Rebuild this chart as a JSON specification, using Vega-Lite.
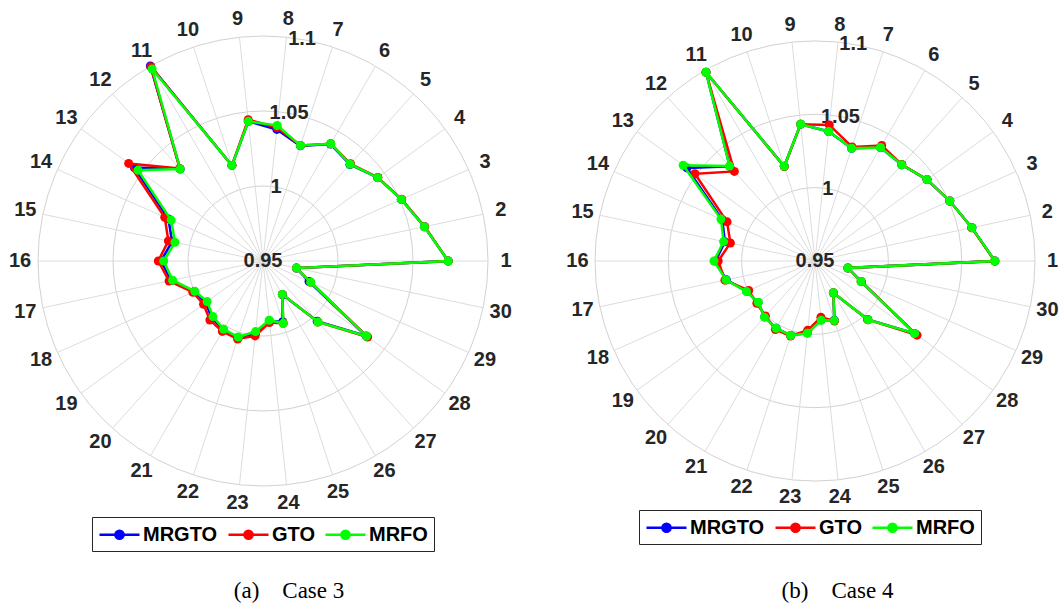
{
  "$schema": "https://vega.github.io/schema/vega-lite/v6.json",
  "background": "white",
  "padding": 0,
  "spacing": 26,
  "bounds": "flush",
  "config": {
    "view": {"stroke": null},
    "font": "Liberation Sans",
    "text": {"font": "Liberation Sans"}
  },
  "datasets": {
    "case3": [
      {"bus": 1, "MRGTO": 1.0735, "GTO": 1.0735, "MRFO": 1.0735},
      {"bus": 2, "MRGTO": 1.0600, "GTO": 1.0602, "MRFO": 1.0600},
      {"bus": 3, "MRGTO": 1.0509, "GTO": 1.0512, "MRFO": 1.0509},
      {"bus": 4, "MRGTO": 1.0445, "GTO": 1.0447, "MRFO": 1.0445},
      {"bus": 5, "MRGTO": 1.0366, "GTO": 1.0372, "MRFO": 1.0368},
      {"bus": 6, "MRGTO": 1.0400, "GTO": 1.0403, "MRFO": 1.0403},
      {"bus": 7, "MRGTO": 1.0307, "GTO": 1.0310, "MRFO": 1.0309},
      {"bus": 8, "MRGTO": 1.0382, "GTO": 1.0395, "MRFO": 1.0408},
      {"bus": 9, "MRGTO": 1.0436, "GTO": 1.0447, "MRFO": 1.0436},
      {"bus": 10, "MRGTO": 1.0170, "GTO": 1.0170, "MRFO": 1.0170},
      {"bus": 11, "MRGTO": 1.1002, "GTO": 1.0995, "MRFO": 1.0978},
      {"bus": 12, "MRGTO": 1.0325, "GTO": 1.0330, "MRFO": 1.0325},
      {"bus": 13, "MRGTO": 1.0560, "GTO": 1.0607, "MRFO": 1.0530},
      {"bus": 14, "MRGTO": 1.0190, "GTO": 1.0217, "MRFO": 1.0170},
      {"bus": 15, "MRGTO": 1.0120, "GTO": 1.0145, "MRFO": 1.0100},
      {"bus": 16, "MRGTO": 1.0180, "GTO": 1.0198, "MRFO": 1.0162},
      {"bus": 17, "MRGTO": 1.0125, "GTO": 1.0140, "MRFO": 1.0116},
      {"bus": 18, "MRGTO": 1.0003, "GTO": 1.0012, "MRFO": 0.9997},
      {"bus": 19, "MRGTO": 0.9972, "GTO": 0.9990, "MRFO": 0.9960},
      {"bus": 20, "MRGTO": 1.0010, "GTO": 1.0029, "MRFO": 0.9999},
      {"bus": 21, "MRGTO": 1.0030, "GTO": 1.0042, "MRFO": 1.0025},
      {"bus": 22, "MRGTO": 1.0038, "GTO": 1.0047, "MRFO": 1.0033},
      {"bus": 23, "MRGTO": 0.9985, "GTO": 1.0002, "MRFO": 0.9973},
      {"bus": 24, "MRGTO": 0.9902, "GTO": 0.9913, "MRFO": 0.9897},
      {"bus": 25, "MRGTO": 0.9925, "GTO": 0.9937, "MRFO": 0.9937},
      {"bus": 26, "MRGTO": 0.9760, "GTO": 0.9757, "MRFO": 0.9757},
      {"bus": 27, "MRGTO": 1.0040, "GTO": 1.0047, "MRFO": 1.0047},
      {"bus": 28, "MRGTO": 1.0350, "GTO": 1.0362, "MRFO": 1.0353},
      {"bus": 29, "MRGTO": 0.9836, "GTO": 0.9848, "MRFO": 0.9848},
      {"bus": 30, "MRGTO": 0.9728, "GTO": 0.9728, "MRFO": 0.9728}
    ],
    "case4": [
      {"bus": 1, "MRGTO": 1.0727, "GTO": 1.0725, "MRFO": 1.0727},
      {"bus": 2, "MRGTO": 1.0594, "GTO": 1.0592, "MRFO": 1.0594},
      {"bus": 3, "MRGTO": 1.0506, "GTO": 1.0506, "MRFO": 1.0506},
      {"bus": 4, "MRGTO": 1.0444, "GTO": 1.0444, "MRFO": 1.0444},
      {"bus": 5, "MRGTO": 1.0383, "GTO": 1.0385, "MRFO": 1.0383},
      {"bus": 6, "MRGTO": 1.0394, "GTO": 1.0410, "MRFO": 1.0394},
      {"bus": 7, "MRGTO": 1.0308, "GTO": 1.0318, "MRFO": 1.0308},
      {"bus": 8, "MRGTO": 1.0388, "GTO": 1.0433, "MRFO": 1.0388},
      {"bus": 9, "MRGTO": 1.0438, "GTO": 1.0438, "MRFO": 1.0438},
      {"bus": 10, "MRGTO": 1.0179, "GTO": 1.0177, "MRFO": 1.0179},
      {"bus": 11, "MRGTO": 1.0986, "GTO": 1.0986, "MRFO": 1.0986},
      {"bus": 12, "MRGTO": 1.0368, "GTO": 1.0322, "MRFO": 1.0371},
      {"bus": 13, "MRGTO": 1.0580, "GTO": 1.0512, "MRFO": 1.0611},
      {"bus": 14, "MRGTO": 1.0192, "GTO": 1.0156, "MRFO": 1.0202},
      {"bus": 15, "MRGTO": 1.0128, "GTO": 1.0090, "MRFO": 1.0137},
      {"bus": 16, "MRGTO": 1.0178, "GTO": 1.0160, "MRFO": 1.0189},
      {"bus": 17, "MRGTO": 1.0118, "GTO": 1.0128, "MRFO": 1.0120},
      {"bus": 18, "MRGTO": 1.0008, "GTO": 0.9995, "MRFO": 1.0012},
      {"bus": 19, "MRGTO": 0.9980, "GTO": 0.9990, "MRFO": 0.9978},
      {"bus": 20, "MRGTO": 1.0012, "GTO": 1.0005, "MRFO": 1.0015},
      {"bus": 21, "MRGTO": 1.0030, "GTO": 1.0040, "MRFO": 1.0030},
      {"bus": 22, "MRGTO": 1.0034, "GTO": 1.0038, "MRFO": 1.0034},
      {"bus": 23, "MRGTO": 0.9992, "GTO": 0.9975, "MRFO": 0.9995},
      {"bus": 24, "MRGTO": 0.9904, "GTO": 0.9885, "MRFO": 0.9906},
      {"bus": 25, "MRGTO": 0.9925, "GTO": 0.9930, "MRFO": 0.9927},
      {"bus": 26, "MRGTO": 0.9752, "GTO": 0.9750, "MRFO": 0.9750},
      {"bus": 27, "MRGTO": 1.0036, "GTO": 1.0039, "MRFO": 1.0039},
      {"bus": 28, "MRGTO": 1.0340, "GTO": 1.0360, "MRFO": 1.0340},
      {"bus": 29, "MRGTO": 0.9846, "GTO": 0.9844, "MRFO": 0.9844},
      {"bus": 30, "MRGTO": 0.9729, "GTO": 0.9729, "MRFO": 0.9729}
    ],
    "spokes": [
      {"bus": 1}, {"bus": 2}, {"bus": 3}, {"bus": 4}, {"bus": 5}, {"bus": 6},
      {"bus": 7}, {"bus": 8}, {"bus": 9}, {"bus": 10}, {"bus": 11}, {"bus": 12},
      {"bus": 13}, {"bus": 14}, {"bus": 15}, {"bus": 16}, {"bus": 17}, {"bus": 18},
      {"bus": 19}, {"bus": 20}, {"bus": 21}, {"bus": 22}, {"bus": 23}, {"bus": 24},
      {"bus": 25}, {"bus": 26}, {"bus": 27}, {"bus": 28}, {"bus": 29}, {"bus": 30}
    ],
    "rings": [
      {"ring": 0.95, "label": "0.95"},
      {"ring": 1.0, "label": "1"},
      {"ring": 1.05, "label": "1.05"},
      {"ring": 1.1, "label": "1.1"}
    ],
    "cap3": [{"cap": "(a)\u00a0\u00a0\u00a0\u00a0Case 3"}],
    "cap4": [{"cap": "(b)\u00a0\u00a0\u00a0\u00a0Case 4"}]
  },
  "resolve": {
    "scale": {"x": "independent", "y": "independent", "color": "independent", "size": "independent"},
    "legend": {"color": "independent", "size": "independent"}
  },
  "hconcat": [
    {
      "width": 526,
      "height": 603,
      "layer": [
        {
          "data": {"name": "rings"},
          "transform": [{"calculate": "(datum.ring - 0.95) / 0.15", "as": "u"}],
          "mark": {"type": "point", "shape": "circle", "filled": false, "color": "#d2d2d2", "strokeWidth": 1, "opacity": 1},
          "encoding": {
            "x": {"datum": 0, "type": "quantitative", "scale": {"domain": [-1.16889, 1.16889], "nice": false, "zero": false}, "axis": null},
            "y": {"datum": 0, "type": "quantitative", "scale": {"domain": [-1.52, 1.16], "nice": false, "zero": false}, "axis": null},
            "size": {"field": "u", "type": "quantitative", "scale": {"type": "pow", "exponent": 2, "domain": [0, 1], "range": [0, 202500], "nice": false}, "legend": null}
          }
        },
        {
          "data": {"name": "spokes"},
          "transform": [
            {"calculate": "cos((datum.bus - 1) * PI / 15)", "as": "sx"},
            {"calculate": "sin((datum.bus - 1) * PI / 15)", "as": "sy"}
          ],
          "mark": {"type": "rule", "color": "#dcdcdc", "strokeWidth": 1},
          "encoding": {
            "x": {"field": "sx", "type": "quantitative"},
            "y": {"field": "sy", "type": "quantitative"},
            "x2": {"datum": 0},
            "y2": {"datum": 0}
          }
        },
        {
          "data": {"name": "spokes"},
          "transform": [
            {"calculate": "1.08 * cos((datum.bus - 1) * PI / 15)", "as": "lx"},
            {"calculate": "1.08 * sin((datum.bus - 1) * PI / 15)", "as": "ly"}
          ],
          "mark": {"type": "text", "fontSize": 20, "fontWeight": "bold", "color": "#262626", "align": "center", "baseline": "middle"},
          "encoding": {
            "x": {"field": "lx", "type": "quantitative"},
            "y": {"field": "ly", "type": "quantitative"},
            "text": {"field": "bus", "type": "nominal"}
          }
        },
        {
          "data": {"name": "rings"},
          "transform": [
            {"calculate": "(datum.ring - 0.95) / 0.15", "as": "u"},
            {"calculate": "datum.u * cos(80 * PI / 180)", "as": "tx"},
            {"calculate": "datum.u * sin(80 * PI / 180)", "as": "ty"}
          ],
          "mark": {"type": "text", "fontSize": 20, "fontWeight": "bold", "color": "#262626", "align": "center", "baseline": "middle"},
          "encoding": {
            "x": {"field": "tx", "type": "quantitative"},
            "y": {"field": "ty", "type": "quantitative"},
            "text": {"field": "label", "type": "nominal"}
          }
        },
        {
          "data": {"name": "case3"},
          "transform": [
            {"fold": ["MRGTO", "GTO", "MRFO"], "as": ["series", "v"]},
            {"filter": "datum.series === 'MRGTO'"},
            {"calculate": "(datum.v - 0.95) / 0.15", "as": "u"},
            {"calculate": "datum.u * cos((datum.bus - 1) * PI / 15)", "as": "px"},
            {"calculate": "datum.u * sin((datum.bus - 1) * PI / 15)", "as": "py"}
          ],
          "mark": {"type": "line", "interpolate": "linear-closed", "strokeWidth": 2.5, "point": {"filled": true, "size": 81, "opacity": 1}},
          "encoding": {
            "x": {"field": "px", "type": "quantitative"},
            "y": {"field": "py", "type": "quantitative"},
            "order": {"field": "bus", "type": "quantitative"},
            "color": {"field": "series", "type": "nominal",
              "scale": {"domain": ["MRGTO", "GTO", "MRFO"], "range": ["#0000ff", "#ff0000", "#00ff00"]},
              "legend": {"title": null, "orient": "none", "legendX": 92, "legendY": 517, "direction": "horizontal",
                "symbolType": "M-1,0L3,0M1.41,0A0.41,0.41,0,1,1,0.59,0A0.41,0.41,0,1,1,1.41,0Z",
                "symbolSize": 400, "symbolStrokeWidth": 2.5,
                "labelFont": "Liberation Sans", "labelFontSize": 20, "labelFontWeight": "bold", "labelColor": "#000000",
                "labelOffset": 22, "columnPadding": 5, "padding": 6,
                "strokeColor": "#262626", "fillColor": "#ffffff"}}
          }
        },
        {
          "data": {"name": "case3"},
          "transform": [
            {"fold": ["MRGTO", "GTO", "MRFO"], "as": ["series", "v"]},
            {"filter": "datum.series === 'GTO'"},
            {"calculate": "(datum.v - 0.95) / 0.15", "as": "u"},
            {"calculate": "datum.u * cos((datum.bus - 1) * PI / 15)", "as": "px"},
            {"calculate": "datum.u * sin((datum.bus - 1) * PI / 15)", "as": "py"}
          ],
          "mark": {"type": "line", "interpolate": "linear-closed", "strokeWidth": 2.5, "point": {"filled": true, "size": 81, "opacity": 1}},
          "encoding": {
            "x": {"field": "px", "type": "quantitative"},
            "y": {"field": "py", "type": "quantitative"},
            "order": {"field": "bus", "type": "quantitative"},
            "color": {"field": "series", "type": "nominal"}
          }
        },
        {
          "data": {"name": "case3"},
          "transform": [
            {"fold": ["MRGTO", "GTO", "MRFO"], "as": ["series", "v"]},
            {"filter": "datum.series === 'MRFO'"},
            {"calculate": "(datum.v - 0.95) / 0.15", "as": "u"},
            {"calculate": "datum.u * cos((datum.bus - 1) * PI / 15)", "as": "px"},
            {"calculate": "datum.u * sin((datum.bus - 1) * PI / 15)", "as": "py"}
          ],
          "mark": {"type": "line", "interpolate": "linear-closed", "strokeWidth": 2.5, "point": {"filled": true, "size": 81, "opacity": 1}},
          "encoding": {
            "x": {"field": "px", "type": "quantitative"},
            "y": {"field": "py", "type": "quantitative"},
            "order": {"field": "bus", "type": "quantitative"},
            "color": {"field": "series", "type": "nominal"}
          }
        },
        {
          "data": {"name": "cap3"},
          "mark": {"type": "text", "font": "Liberation Serif", "fontSize": 23, "color": "#000000", "align": "center", "baseline": "alphabetic"},
          "encoding": {
            "x": {"datum": 0.1156, "type": "quantitative"},
            "y": {"datum": -1.4964, "type": "quantitative"},
            "text": {"field": "cap", "type": "nominal"}
          }
        }
      ]
    },
    {
      "width": 526,
      "height": 603,
      "layer": [
        {
          "data": {"name": "rings"},
          "transform": [{"calculate": "(datum.ring - 0.95) / 0.15", "as": "u"}],
          "mark": {"type": "point", "shape": "circle", "filled": false, "color": "#d2d2d2", "strokeWidth": 1, "opacity": 1},
          "encoding": {
            "x": {"datum": 0, "type": "quantitative", "scale": {"domain": [-1.19545, 1.19545], "nice": false, "zero": false}, "axis": null},
            "y": {"datum": 0, "type": "quantitative", "scale": {"domain": [-1.55455, 1.18636], "nice": false, "zero": false}, "axis": null},
            "size": {"field": "u", "type": "quantitative", "scale": {"type": "pow", "exponent": 2, "domain": [0, 1], "range": [0, 193600], "nice": false}, "legend": null}
          }
        },
        {
          "data": {"name": "spokes"},
          "transform": [
            {"calculate": "cos((datum.bus - 1) * PI / 15)", "as": "sx"},
            {"calculate": "sin((datum.bus - 1) * PI / 15)", "as": "sy"}
          ],
          "mark": {"type": "rule", "color": "#dcdcdc", "strokeWidth": 1},
          "encoding": {
            "x": {"field": "sx", "type": "quantitative"},
            "y": {"field": "sy", "type": "quantitative"},
            "x2": {"datum": 0},
            "y2": {"datum": 0}
          }
        },
        {
          "data": {"name": "spokes"},
          "transform": [
            {"calculate": "1.08 * cos((datum.bus - 1) * PI / 15)", "as": "lx"},
            {"calculate": "1.08 * sin((datum.bus - 1) * PI / 15)", "as": "ly"}
          ],
          "mark": {"type": "text", "fontSize": 20, "fontWeight": "bold", "color": "#262626", "align": "center", "baseline": "middle"},
          "encoding": {
            "x": {"field": "lx", "type": "quantitative"},
            "y": {"field": "ly", "type": "quantitative"},
            "text": {"field": "bus", "type": "nominal"}
          }
        },
        {
          "data": {"name": "rings"},
          "transform": [
            {"calculate": "(datum.ring - 0.95) / 0.15", "as": "u"},
            {"calculate": "datum.u * cos(80 * PI / 180)", "as": "tx"},
            {"calculate": "datum.u * sin(80 * PI / 180)", "as": "ty"}
          ],
          "mark": {"type": "text", "fontSize": 20, "fontWeight": "bold", "color": "#262626", "align": "center", "baseline": "middle"},
          "encoding": {
            "x": {"field": "tx", "type": "quantitative"},
            "y": {"field": "ty", "type": "quantitative"},
            "text": {"field": "label", "type": "nominal"}
          }
        },
        {
          "data": {"name": "case4"},
          "transform": [
            {"fold": ["MRGTO", "GTO", "MRFO"], "as": ["series", "v"]},
            {"filter": "datum.series === 'MRGTO'"},
            {"calculate": "(datum.v - 0.95) / 0.15", "as": "u"},
            {"calculate": "datum.u * cos((datum.bus - 1) * PI / 15)", "as": "px"},
            {"calculate": "datum.u * sin((datum.bus - 1) * PI / 15)", "as": "py"}
          ],
          "mark": {"type": "line", "interpolate": "linear-closed", "strokeWidth": 2.5, "point": {"filled": true, "size": 81, "opacity": 1}},
          "encoding": {
            "x": {"field": "px", "type": "quantitative"},
            "y": {"field": "py", "type": "quantitative"},
            "order": {"field": "bus", "type": "quantitative"},
            "color": {"field": "series", "type": "nominal",
              "scale": {"domain": ["MRGTO", "GTO", "MRFO"], "range": ["#0000ff", "#ff0000", "#00ff00"]},
              "legend": {"title": null, "orient": "none", "legendX": 87, "legendY": 510, "direction": "horizontal",
                "symbolType": "M-1,0L3,0M1.41,0A0.41,0.41,0,1,1,0.59,0A0.41,0.41,0,1,1,1.41,0Z",
                "symbolSize": 400, "symbolStrokeWidth": 2.5,
                "labelFont": "Liberation Sans", "labelFontSize": 20, "labelFontWeight": "bold", "labelColor": "#000000",
                "labelOffset": 22, "columnPadding": 5, "padding": 6,
                "strokeColor": "#262626", "fillColor": "#ffffff"}}
          }
        },
        {
          "data": {"name": "case4"},
          "transform": [
            {"fold": ["MRGTO", "GTO", "MRFO"], "as": ["series", "v"]},
            {"filter": "datum.series === 'GTO'"},
            {"calculate": "(datum.v - 0.95) / 0.15", "as": "u"},
            {"calculate": "datum.u * cos((datum.bus - 1) * PI / 15)", "as": "px"},
            {"calculate": "datum.u * sin((datum.bus - 1) * PI / 15)", "as": "py"}
          ],
          "mark": {"type": "line", "interpolate": "linear-closed", "strokeWidth": 2.5, "point": {"filled": true, "size": 81, "opacity": 1}},
          "encoding": {
            "x": {"field": "px", "type": "quantitative"},
            "y": {"field": "py", "type": "quantitative"},
            "order": {"field": "bus", "type": "quantitative"},
            "color": {"field": "series", "type": "nominal"}
          }
        },
        {
          "data": {"name": "case4"},
          "transform": [
            {"fold": ["MRGTO", "GTO", "MRFO"], "as": ["series", "v"]},
            {"filter": "datum.series === 'MRFO'"},
            {"calculate": "(datum.v - 0.95) / 0.15", "as": "u"},
            {"calculate": "datum.u * cos((datum.bus - 1) * PI / 15)", "as": "px"},
            {"calculate": "datum.u * sin((datum.bus - 1) * PI / 15)", "as": "py"}
          ],
          "mark": {"type": "line", "interpolate": "linear-closed", "strokeWidth": 2.5, "point": {"filled": true, "size": 81, "opacity": 1}},
          "encoding": {
            "x": {"field": "px", "type": "quantitative"},
            "y": {"field": "py", "type": "quantitative"},
            "order": {"field": "bus", "type": "quantitative"},
            "color": {"field": "series", "type": "nominal"}
          }
        },
        {
          "data": {"name": "cap4"},
          "mark": {"type": "text", "font": "Liberation Serif", "fontSize": 23, "color": "#000000", "align": "center", "baseline": "alphabetic"},
          "encoding": {
            "x": {"datum": 0.1023, "type": "quantitative"},
            "y": {"datum": -1.5305, "type": "quantitative"},
            "text": {"field": "cap", "type": "nominal"}
          }
        }
      ]
    }
  ]
}
